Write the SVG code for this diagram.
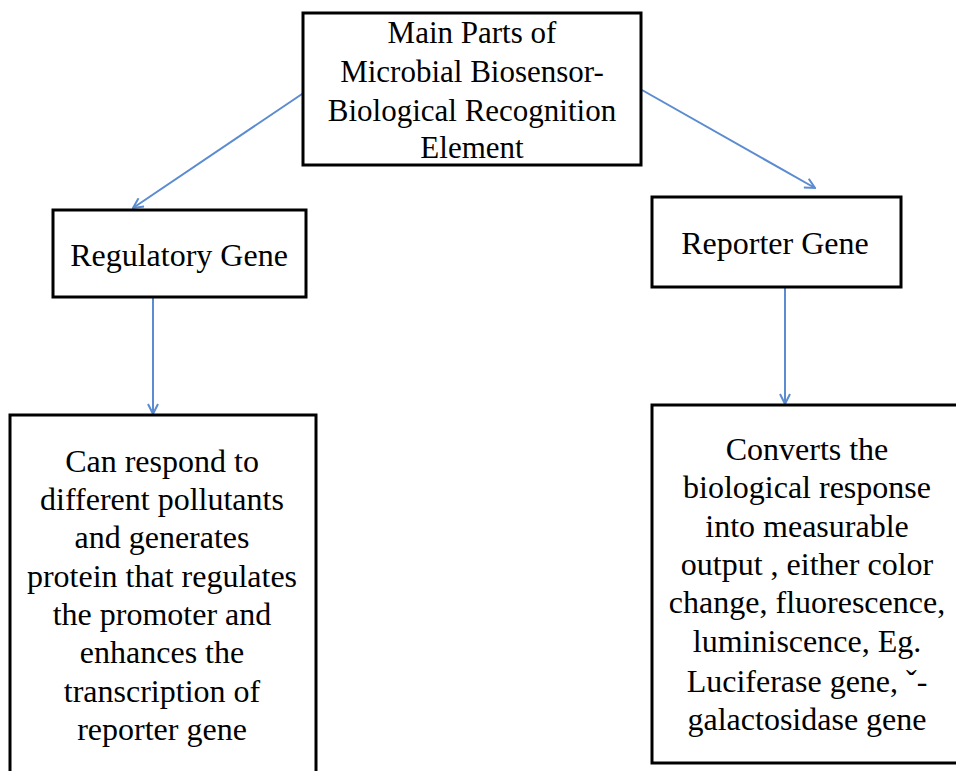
<svg xmlns="http://www.w3.org/2000/svg" width="956" height="771" viewBox="0 0 956 771">
<style>
.box{fill:#fff;stroke:#000;stroke-width:3}
.t{font-family:"Liberation Serif","Times New Roman",serif;font-size:32px;fill:#000;text-anchor:middle}
.c{stroke:#5b8bd0;stroke-width:2;fill:none;marker-end:url(#ah)}
</style>
<defs>
<marker id="ah" viewBox="0 0 12 12" refX="11" refY="6" markerWidth="12" markerHeight="12" markerUnits="userSpaceOnUse" orient="auto">
<path d="M1,1 L11,6 L1,11" fill="none" stroke="#5b8bd0" stroke-width="2"/>
</marker>
</defs>
<rect width="956" height="771" fill="#fff"/>
<g id="connectors">
<line class="c" x1="305" y1="92" x2="133" y2="208"/>
<line class="c" x1="642" y1="90" x2="815" y2="188"/>
<line class="c" x1="153" y1="297" x2="153" y2="414"/>
<line class="c" x1="785" y1="287" x2="785" y2="404"/>
</g>
<g id="main">
<rect class="box" x="303" y="13" width="338" height="152"/>
<text class="t" style="font-size:31px" x="472" y="43">Main Parts of</text>
<text class="t" style="font-size:31px" x="472" y="82">Microbial Biosensor-</text>
<text class="t" style="font-size:31px" x="472" y="121">Biological Recognition</text>
<text class="t" style="font-size:31px" x="472" y="158">Element</text>
</g>
<g id="regulatory">
<rect class="box" x="53" y="210" width="253" height="87"/>
<text class="t" x="179" y="266">Regulatory Gene</text>
</g>
<g id="reporter">
<rect class="box" x="652" y="197" width="249" height="90"/>
<text class="t" x="775" y="254">Reporter Gene</text>
</g>
<g id="regulatory-desc">
<rect class="box" x="10" y="415" width="306" height="370"/>
<text class="t" x="162" y="472">Can respond to</text>
<text class="t" x="162" y="510">different pollutants</text>
<text class="t" x="162" y="548">and generates</text>
<text class="t" x="162" y="587">protein that regulates</text>
<text class="t" x="162" y="625">the promoter and</text>
<text class="t" x="162" y="663">enhances the</text>
<text class="t" x="162" y="702">transcription of</text>
<text class="t" x="162" y="740">reporter gene</text>
</g>
<g id="reporter-desc">
<rect class="box" x="652" y="405" width="310" height="358"/>
<text class="t" x="807" y="460">Converts the</text>
<text class="t" x="807" y="498">biological response</text>
<text class="t" x="807" y="537">into measurable</text>
<text class="t" x="807" y="575">output , either color</text>
<text class="t" x="807" y="613">change, fluorescence,</text>
<text class="t" x="807" y="652">luminiscence, Eg.</text>
<text class="t" x="807" y="692">Luciferase gene, ˇ-</text>
<text class="t" x="807" y="730">galactosidase gene</text>
</g>
</svg>
